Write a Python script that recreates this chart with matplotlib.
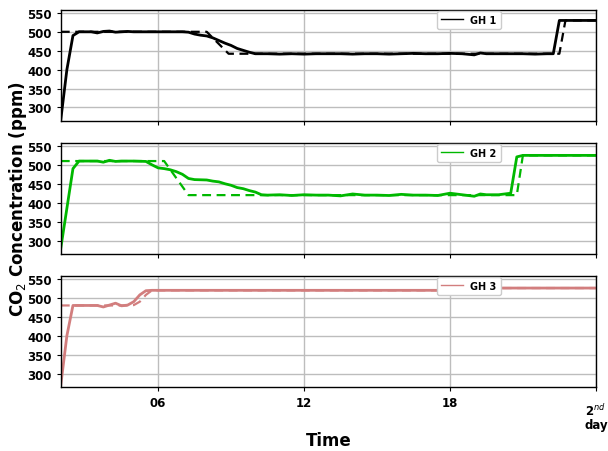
import matplotlib
matplotlib.use("Agg")
import matplotlib.pyplot as plt
from matplotlib.lines import Line2D

# ---- data (hours since start, CO2 in ppm) ----
gh1_t = [2.0, 2.25, 2.5, 2.75, 3.0, 3.25, 3.5, 3.75, 4.0, 4.25, 4.5, 4.75, 5.0,
         5.5, 6.0, 6.5, 7.0, 7.25, 7.5, 7.75, 8.0, 8.25, 8.5, 8.75, 9.0, 9.25,
         9.5, 9.75, 10.0, 10.5, 11.0, 11.5, 12.0, 12.5, 13.0, 13.5, 14.0, 14.5,
         15.0, 15.5, 16.0, 16.5, 17.0, 17.5, 18.0, 18.5, 19.0, 19.25, 19.5,
         20.0, 20.5, 21.0, 21.5, 22.0, 22.25, 22.5, 23.0, 24.0]
gh1_co2 = [268, 400, 490, 500, 500, 500, 497, 501, 502, 499, 500, 501, 500,
           500, 500, 500, 500, 499, 494, 491, 489, 484, 477, 470, 464, 456,
           451, 446, 442, 442, 441, 442, 441, 442, 442, 442, 441, 442,
           442, 441, 442, 443, 442, 442, 443, 442, 439, 444, 442,
           442, 442, 442, 441, 442, 442, 530, 530, 530]
gh1_sp_t = [2.0, 8.0, 8.9, 22.5, 22.75, 24.0]
gh1_sp = [500, 500, 442, 442, 530, 530]

gh2_t = [2.0, 2.25, 2.5, 2.75, 3.0, 3.5, 3.75, 4.0, 4.25, 4.5, 5.0, 5.5,
         5.75, 6.0, 6.25, 6.5, 6.75, 7.0, 7.25, 7.5, 8.0, 8.25, 8.5, 8.75,
         9.0, 9.25, 9.5, 9.75, 10.0, 10.25, 10.5, 11.0, 11.5, 12.0, 12.5,
         13.0, 13.5, 14.0, 14.5, 15.0, 15.5, 16.0, 16.5, 17.0, 17.5, 18.0,
         18.5, 19.0, 19.25, 19.5, 20.0, 20.5, 20.75, 21.0, 24.0]
gh2_co2 = [280, 385, 490, 510, 510, 510, 507, 512, 509, 510, 510, 509,
           500, 492, 490, 487, 482, 475, 464, 461, 460, 457, 455, 450,
           446, 440, 437, 432, 428, 421, 420, 421, 419, 421, 420,
           420, 418, 423, 420, 420, 419, 422, 420, 420, 419, 425,
           421, 417, 423, 421, 421, 425, 521, 525, 525]
gh2_sp_t = [2.0, 6.25, 7.25, 20.75, 21.0, 24.0]
gh2_sp = [510, 510, 420, 420, 525, 525]

gh3_t = [2.0, 2.25, 2.5, 2.75, 3.0, 3.25, 3.5, 3.75, 4.0, 4.25, 4.5, 4.75,
         5.0, 5.25, 5.5, 5.75, 19.0, 19.25, 24.0]
gh3_co2 = [270, 400, 480, 480, 480, 480, 480, 476, 481, 486, 479, 481,
           490, 508, 519, 520, 520, 526, 526]
gh3_sp_t = [2.0, 4.75, 5.0, 5.25, 5.5, 5.75, 19.0, 19.25, 24.0]
gh3_sp = [480, 480, 481, 490, 508, 520, 520, 526, 526]

series = [
    ("GH 1", gh1_t, gh1_co2, gh1_sp_t, gh1_sp, "black"),
    ("GH 2", gh2_t, gh2_co2, gh2_sp_t, gh2_sp, "#00b800"),
    ("GH 3", gh3_t, gh3_co2, gh3_sp_t, gh3_sp, "#d27e7e"),
]

x_ticks = [6, 12, 18, 24]
x_tick_labels = ["06", "12", "18", ""]
next_day_label = "2$^{nd}$\nday"
y_ticks = [300, 350, 400, 450, 500, 550]

fig, axes = plt.subplots(3, 1, figsize=(6.08, 4.52), dpi=100, sharex=True)
fig.subplots_adjust(left=0.100, right=0.980, top=0.976, bottom=0.142, hspace=0.2)

for ax, (name, t, co2, sp_t, sp, color) in zip(axes, series):
    ax.plot(sp_t, sp, color=color, lw=1.6, ls=(0, (4, 2.5)))
    ax.plot(t, co2, color=color, lw=2.0)
    ax.set_xlim(2, 24)
    ax.set_ylim(265, 558)
    ax.set_yticks(y_ticks)
    ax.grid(True, color="#bdbdbd", lw=1.0)
    ax.set_axisbelow(True)
    for lab in ax.get_yticklabels():
        lab.set_fontweight("bold")
        lab.set_fontsize(8.5)
    ax.tick_params(axis="both", length=3, width=0.8)
    handle = Line2D([], [], color=color, lw=1.0)
    ax.legend([handle], [name], loc="upper center", bbox_to_anchor=(0.763, 1.0),
              borderaxespad=0.1, prop={"weight": "bold", "size": 7},
              handlelength=2.2, framealpha=1.0)
    for sp_name in ax.spines:
        ax.spines[sp_name].set_linewidth(1.0)

bottom = axes[-1]
bottom.set_xticks(x_ticks)
bottom.set_xticklabels(x_tick_labels, fontweight="bold", fontsize=8.5)
bottom.text(24, -0.14, next_day_label, transform=bottom.get_xaxis_transform(),
            ha="center", va="top", fontweight="bold", fontsize=8.5,
            linespacing=1.0, clip_on=False)
bottom.set_xlabel("Time", fontweight="bold", fontsize=12)
bottom.xaxis.set_label_coords(0.5, -0.48)
bottom.xaxis.label.set_va("center")

fig.text(0.03, 0.56, "CO$_2$ Concentration (ppm)", rotation=90,
         ha="center", va="center", fontweight="bold", fontsize=12)

fig.savefig("out.png", dpi=100)
